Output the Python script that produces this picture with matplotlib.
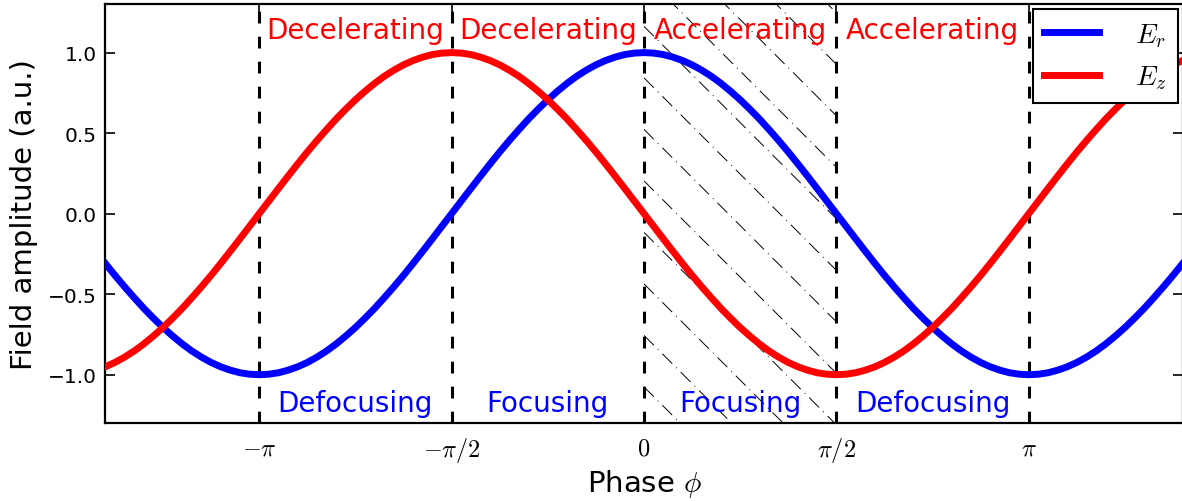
import numpy as np
import matplotlib
matplotlib.use("Agg")
import matplotlib.pyplot as plt

plt.rcParams['mathtext.fontset'] = 'cm'
plt.rcParams['font.family'] = ['DejaVu Sans']
plt.rcParams['lines.scale_dashes'] = False

# ---------------- data ----------------
# phase samples (in units of pi) from -1.4 to 1.4, step 0.025
phase_pi = np.linspace(-1.4, 1.4, 113)
E_r = [-0.309, -0.383, -0.454, -0.522, -0.588, -0.649, -0.707, -0.760, -0.809, -0.853,
       -0.891, -0.924, -0.951, -0.972, -0.988, -0.997, -1.000, -0.997, -0.988, -0.972,
       -0.951, -0.924, -0.891, -0.853, -0.809, -0.760, -0.707, -0.649, -0.588, -0.522,
       -0.454, -0.383, -0.309, -0.233, -0.156, -0.078, 0.000, 0.078, 0.156, 0.233,
       0.309, 0.383, 0.454, 0.522, 0.588, 0.649, 0.707, 0.760, 0.809, 0.853,
       0.891, 0.924, 0.951, 0.972, 0.988, 0.997, 1.000,
       0.997, 0.988, 0.972, 0.951, 0.924, 0.891, 0.853, 0.809, 0.760, 0.707,
       0.649, 0.588, 0.522, 0.454, 0.383, 0.309, 0.233, 0.156, 0.078, 0.000,
       -0.078, -0.156, -0.233, -0.309, -0.383, -0.454, -0.522, -0.588, -0.649, -0.707,
       -0.760, -0.809, -0.853, -0.891, -0.924, -0.951, -0.972, -0.988, -0.997, -1.000,
       -0.997, -0.988, -0.972, -0.951, -0.924, -0.891, -0.853, -0.809, -0.760, -0.707,
       -0.649, -0.588, -0.522, -0.454, -0.383, -0.309]
E_z = [-0.951, -0.924, -0.891, -0.853, -0.809, -0.760, -0.707, -0.649, -0.588, -0.522,
       -0.454, -0.383, -0.309, -0.233, -0.156, -0.078, 0.000, 0.078, 0.156, 0.233,
       0.309, 0.383, 0.454, 0.522, 0.588, 0.649, 0.707, 0.760, 0.809, 0.853,
       0.891, 0.924, 0.951, 0.972, 0.988, 0.997, 1.000, 0.997, 0.988, 0.972,
       0.951, 0.924, 0.891, 0.853, 0.809, 0.760, 0.707, 0.649, 0.588, 0.522,
       0.454, 0.383, 0.309, 0.233, 0.156, 0.078, 0.000, -0.078, -0.156, -0.233,
       -0.309, -0.383, -0.454, -0.522, -0.588, -0.649, -0.707, -0.760, -0.809, -0.853,
       -0.891, -0.924, -0.951, -0.972, -0.988, -0.997, -1.000,
       -0.997, -0.988, -0.972, -0.951, -0.924, -0.891, -0.853, -0.809, -0.760, -0.707,
       -0.649, -0.588, -0.522, -0.454, -0.383, -0.309, -0.233, -0.156, -0.078, 0.000,
       0.078, 0.156, 0.233, 0.309, 0.383, 0.454, 0.522, 0.588, 0.649, 0.707,
       0.760, 0.809, 0.853, 0.891, 0.924, 0.951]

boundaries_pi = [-1.0, -0.5, 0.0, 0.5, 1.0]
tick_labels = [r'$-\pi$', r'$-\pi/2$', r'$0$', r'$\pi/2$', r'$\pi$']
top_labels = ['Decelerating', 'Decelerating', 'Accelerating', 'Accelerating']
bottom_labels = ['Defocusing', 'Focusing', 'Focusing', 'Defocusing']
hatched_region_pi = [0.0, 0.5]
y_ticks = [-1.0, -0.5, 0.0, 0.5, 1.0]

phase = np.array(phase_pi) * np.pi
bounds = np.array(boundaries_pi) * np.pi

# ---------------- figure ----------------
W, H = 1182, 502
fig = plt.figure(figsize=(W / 100, H / 100), dpi=100)
ax_l, ax_r, ax_t, ax_b = 105.3, 1182.7, 5.3, 424.0
ax = fig.add_axes([ax_l / W, (H - ax_b) / H, (ax_r - ax_l) / W, (ax_b - ax_t) / H])

xlim = (phase[0], phase[-1])
ylim = (-1.3, 1.3)
ax.set_xlim(*xlim)
ax.set_ylim(*ylim)

# hatched region (dash-dot diagonal lines, 45 degrees in pixel space)
hx0, hx1 = np.array(hatched_region_pi) * np.pi
span = ax.axvspan(hx0, hx1, facecolor='none', edgecolor='none', zorder=1)
px_per_x = (ax_r - ax_l) / (xlim[1] - xlim[0])
px_per_y = (ax_b - ax_t) / (ylim[1] - ylim[0])
slope = px_per_x / px_per_y          # data slope for a 45 deg line
spacing = 51.5 / px_per_y            # vertical spacing in data units
offset = 0.843
for k in range(-20, 20):
    c = offset + k * spacing
    ya, yb = c - slope * hx0, c - slope * hx1
    if max(ya, yb) < ylim[0] - 0.1 or min(ya, yb) > ylim[1] + 0.1:
        continue
    ln, = ax.plot([hx0, hx1], [ya, yb], color='k', lw=0.7,
                  dashes=(10, 4.0, 0.7, 4.0), zorder=1)
    ln.set_clip_path(span)

# vertical dashed boundaries
for b in bounds:
    ax.axvline(b, color='k', lw=2.2, dashes=(8.5, 9.5), zorder=2)

ax.plot(phase, E_r, color='b', lw=5, solid_joinstyle='round', label=r'$E_r$', zorder=3)
ax.plot(phase, E_z, color='r', lw=5, solid_joinstyle='round', label=r'$E_z$', zorder=3)

mids = (bounds[:-1] + bounds[1:]) / 2
for m, t in zip(mids, top_labels):
    ax.text(m, 1.09, t, color='r', fontsize=20, ha='center', va='baseline', zorder=4)
for m, t in zip(mids, bottom_labels):
    ax.text(m, -1.228, t, color='b', fontsize=20, ha='center', va='baseline', zorder=4)

ax.set_xticks(bounds)
ax.set_xticklabels(tick_labels)
ax.set_yticks(y_ticks)
ax.tick_params(direction='in', length=7, width=1.2, top=True, right=True)
ax.tick_params(axis='y', labelsize=14.5, pad=6)
ax.tick_params(axis='x', labelsize=17.5, pad=9)
for s in ax.spines.values():
    s.set_linewidth(1.6)

ax.set_xlabel(r'Phase $\phi$', fontsize=21, labelpad=2)
ax.set_ylabel('Field amplitude (a.u.)', fontsize=21, labelpad=7)

leg = ax.legend(loc='upper right', fontsize=20, borderaxespad=0.17, handlelength=2,
                handletextpad=1.3, fancybox=False, edgecolor='k', framealpha=1,
                borderpad=0.4, labelspacing=0.5)
leg.get_frame().set_linewidth(1.5)
leg.set_zorder(10)

fig.savefig('out.png', dpi=100, facecolor='white')
